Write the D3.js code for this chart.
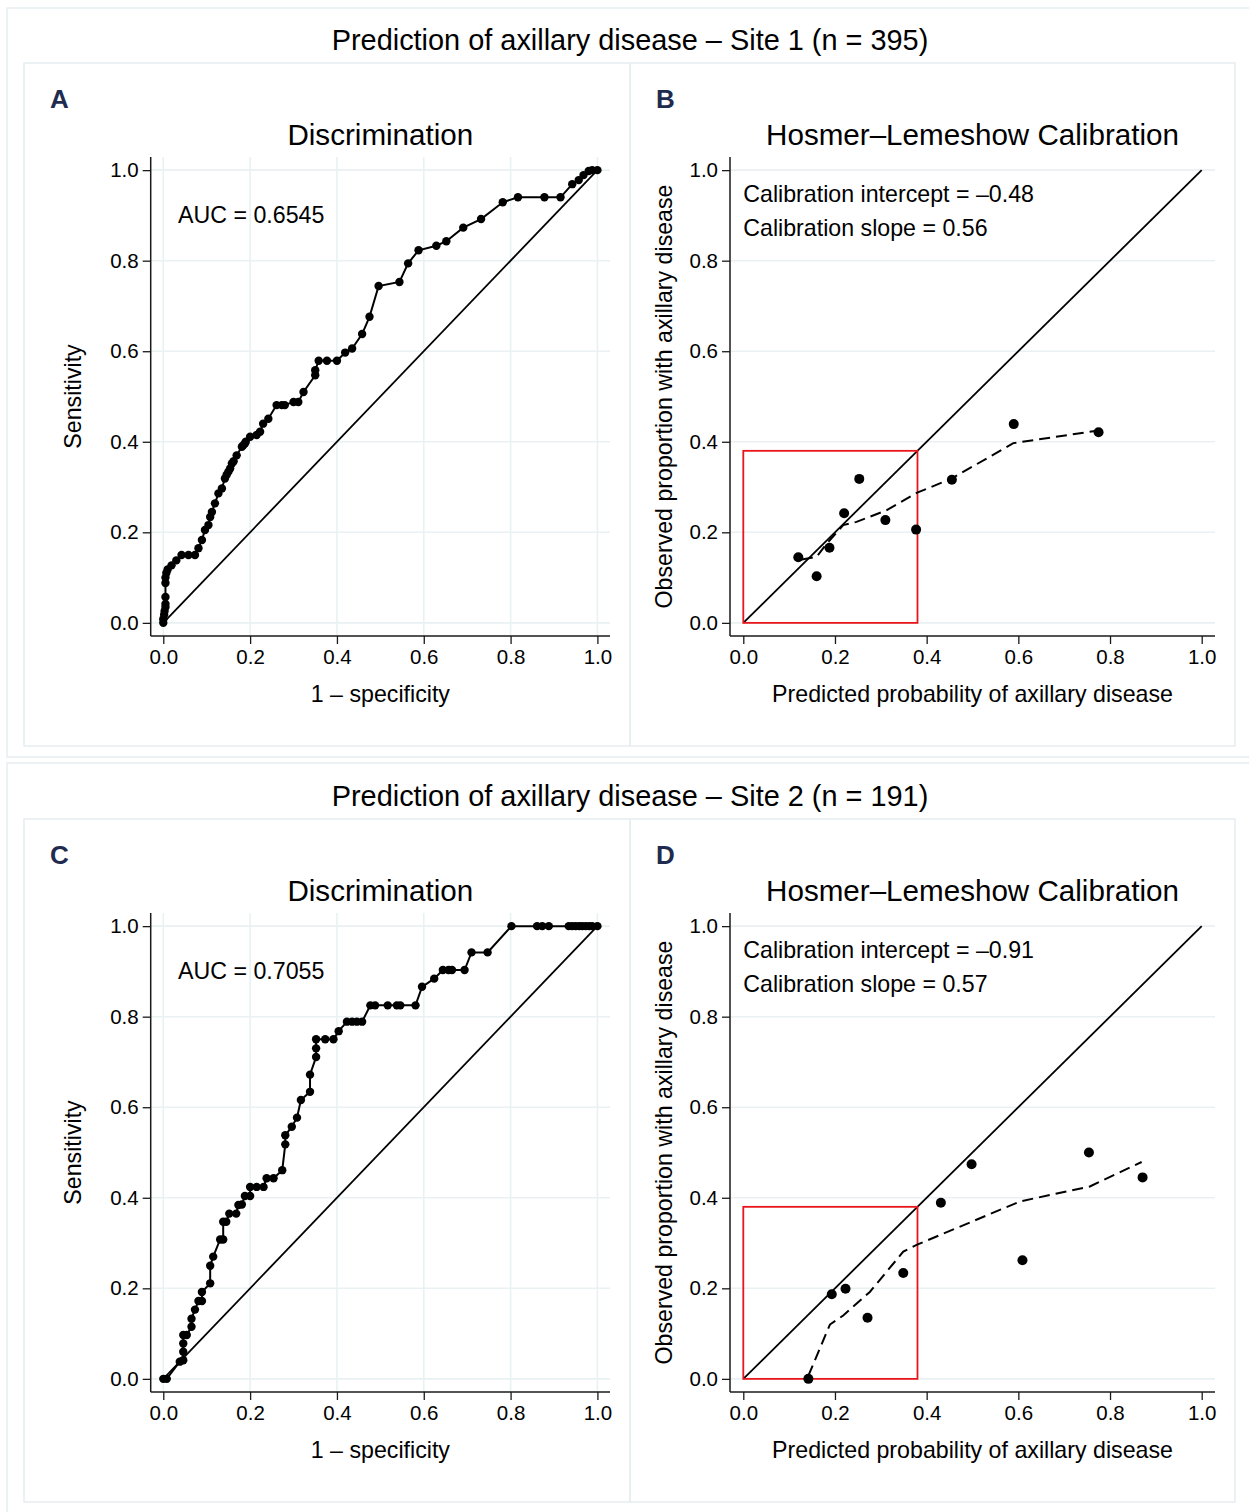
<!DOCTYPE html>
<html>
<head>
<meta charset="utf-8">
<script src="https://cdn.jsdelivr.net/npm/d3@7"></script>
<style>
  body { margin: 0; background: #fff; }
  text { font-family: "Liberation Sans", Arial, sans-serif; fill: #000; }
</style>
</head>
<body>
<div id="chart"></div>
<script>
// Data
const ticks = [0, 0.2, 0.4, 0.6, 0.8, 1.0];

const siteTitles = ["Prediction of axillary disease \u2013 Site 1 (n = 395)",
                    "Prediction of axillary disease \u2013 Site 2 (n = 191)"];
const panelLetters = ["A", "B", "C", "D"];
const aucLabels = ["AUC = 0.6545", "AUC = 0.7055"];
const interceptLabels = ["Calibration intercept = \u20130.48", "Calibration intercept = \u20130.91"];
const slopeLabels = ["Calibration slope = 0.56", "Calibration slope = 0.57"];

// ROC, site 1 (1 - specificity, sensitivity)
const roc1X = [0, 0, 0.002, 0.003, 0.005, 0.005, 0.005, 0.005, 0.005, 0.007, 0.01, 0.019, 0.03, 0.042,
  0.058, 0.073, 0.081, 0.089, 0.096, 0.104, 0.108, 0.112, 0.119, 0.127, 0.135, 0.142, 0.146, 0.15, 0.154,
  0.158, 0.162, 0.169, 0.181, 0.184, 0.188, 0.19, 0.2, 0.215, 0.223, 0.23, 0.242, 0.261, 0.273, 0.28, 0.3,
  0.311, 0.323, 0.35, 0.35, 0.358, 0.377, 0.4, 0.419, 0.435, 0.458, 0.475, 0.496, 0.544, 0.564, 0.588,
  0.629, 0.652, 0.691, 0.732, 0.782, 0.817, 0.878, 0.915, 0.942, 0.957, 0.968, 0.98, 0.988, 1];
const roc1Y = [0, 0.008, 0.018, 0.026, 0.035, 0.042, 0.057, 0.088, 0.1, 0.11, 0.118, 0.127, 0.138, 0.15,
  0.15, 0.15, 0.165, 0.183, 0.205, 0.216, 0.234, 0.245, 0.264, 0.286, 0.297, 0.319, 0.327, 0.334, 0.341,
  0.352, 0.357, 0.37, 0.389, 0.392, 0.396, 0.4, 0.411, 0.415, 0.422, 0.44, 0.451, 0.481, 0.481, 0.481, 0.488,
  0.488, 0.51, 0.547, 0.558, 0.579, 0.579, 0.579, 0.597, 0.606, 0.638, 0.676, 0.744, 0.753, 0.794, 0.823,
  0.833, 0.843, 0.873, 0.892, 0.929, 0.94, 0.94, 0.94, 0.969, 0.978, 0.989, 0.998, 1, 1];

// ROC, site 2
const roc2X = [0, 0.008, 0.038, 0.046, 0.046, 0.046, 0.046, 0.054, 0.065, 0.065, 0.073, 0.081, 0.089, 0.089,
  0.108, 0.108, 0.115, 0.131, 0.138, 0.138, 0.145, 0.152, 0.168, 0.173, 0.181, 0.188, 0.2, 0.2, 0.215, 0.231,
  0.238, 0.254, 0.274, 0.281, 0.281, 0.296, 0.308, 0.317, 0.338, 0.338, 0.352, 0.352, 0.352, 0.373, 0.392,
  0.404, 0.423, 0.435, 0.446, 0.458, 0.477, 0.488, 0.517, 0.538, 0.546, 0.581, 0.596, 0.624, 0.644, 0.657,
  0.665, 0.694, 0.71, 0.747, 0.802, 0.861, 0.873, 0.888, 0.934, 0.942, 0.95, 0.958, 0.965, 0.973, 0.981,
  0.988, 1];
const roc2Y = [0, 0, 0.038, 0.041, 0.06, 0.078, 0.097, 0.097, 0.115, 0.133, 0.153, 0.172, 0.172, 0.192,
  0.211, 0.25, 0.27, 0.308, 0.308, 0.347, 0.347, 0.365, 0.365, 0.384, 0.385, 0.404, 0.404, 0.424, 0.424,
  0.424, 0.443, 0.443, 0.461, 0.518, 0.538, 0.557, 0.577, 0.616, 0.634, 0.672, 0.711, 0.73, 0.75, 0.75, 0.75,
  0.768, 0.789, 0.789, 0.789, 0.789, 0.825, 0.825, 0.825, 0.825, 0.825, 0.825, 0.866, 0.884, 0.903, 0.903,
  0.903, 0.903, 0.942, 0.942, 1, 1, 1, 1, 1, 1, 1, 1, 1, 1, 1, 1, 1];

// Hosmer-Lemeshow groups, site 1
const cal1Pred = [0.12, 0.16, 0.188, 0.22, 0.253, 0.31, 0.377, 0.455, 0.59, 0.775];
const cal1Obs = [0.145, 0.103, 0.166, 0.242, 0.318, 0.227, 0.206, 0.316, 0.439, 0.421];
const smooth1X = [0.128, 0.16, 0.182, 0.218, 0.247, 0.313, 0.378, 0.455, 0.589, 0.775];
const smooth1Y = [0.14, 0.146, 0.175, 0.216, 0.223, 0.249, 0.287, 0.319, 0.397, 0.425];

// Hosmer-Lemeshow groups, site 2
const cal2Pred = [0.142, 0.193, 0.223, 0.271, 0.349, 0.431, 0.498, 0.609, 0.754, 0.871];
const cal2Obs = [0, 0.187, 0.199, 0.135, 0.234, 0.389, 0.474, 0.262, 0.5, 0.445];
const smooth2X = [0.142, 0.189, 0.218, 0.276, 0.349, 0.378, 0.604, 0.756, 0.869];
const smooth2Y = [0.007, 0.12, 0.14, 0.192, 0.281, 0.296, 0.392, 0.425, 0.479];

const zoomBox = 0.38;

// Layout
const W = 1249, H = 1512;
const rowShift = 756;
const pad = 0.029;
const frameColor = "#e6eef0";
const gridColor = "#e9f1f3";
const axisColor = "#1a1a1a";

const svg = d3.select("#chart").append("svg")
  .attr("width", W).attr("height", H);

svg.append("rect").attr("width", W).attr("height", H).attr("fill", "#fff");

// outer frames for each site and panel frames
[0, 1].forEach(r => {
  const dy = r * rowShift;
  svg.append("rect")
    .attr("x", 7).attr("y", 8 + dy + (r ? -1 : 0)).attr("width", 1262).attr("height", r ? 770 : 749)
    .attr("fill", "none").attr("stroke", frameColor).attr("stroke-width", 1.5);
  svg.append("rect")
    .attr("x", 24).attr("y", 63 + dy).attr("width", 606).attr("height", 683)
    .attr("fill", "none").attr("stroke", frameColor).attr("stroke-width", 1.5);
  svg.append("rect")
    .attr("x", 630).attr("y", 63 + dy).attr("width", 605).attr("height", 683)
    .attr("fill", "none").attr("stroke", frameColor).attr("stroke-width", 1.5);
  svg.append("text")
    .attr("x", 630).attr("y", 50 + dy)
    .attr("text-anchor", "middle").attr("font-size", 28.9)
    .text(siteTitles[r]);
});

function drawPanel(cfg) {
  const g = svg.append("g").attr("transform", `translate(0,${cfg.dy})`);

  const x = d3.scaleLinear().domain([-pad, 1 + pad]).range([cfg.left, cfg.right]);
  const y = d3.scaleLinear().domain([-pad, 1 + pad]).range([636, 157]);

  // panel letter
  g.append("text")
    .attr("x", cfg.frameLeft + 26).attr("y", 108)
    .attr("font-size", 26).attr("font-weight", "bold")
    .style("fill", "#1f2c4f")
    .text(cfg.letter);

  // subtitle
  g.append("text")
    .attr("x", (cfg.left + cfg.right) / 2).attr("y", 145)
    .attr("text-anchor", "middle").attr("font-size", 29.6)
    .text(cfg.subtitle);

  // gridlines
  g.append("g").selectAll("line").data(ticks).join("line")
    .attr("x1", cfg.left).attr("x2", cfg.right)
    .attr("y1", d => y(d)).attr("y2", d => y(d))
    .attr("stroke", gridColor).attr("stroke-width", 1.6);
  if (cfg.vgrid) {
    g.append("g").selectAll("line").data(ticks).join("line")
      .attr("x1", d => x(d)).attr("x2", d => x(d))
      .attr("y1", 157).attr("y2", 636)
      .attr("stroke", gridColor).attr("stroke-width", 1.6);
  }

  // axes
  const xAxis = g.append("g")
    .attr("transform", "translate(0,636)")
    .call(d3.axisBottom(x).tickValues(ticks).tickFormat(d3.format(".1f")).tickSize(8).tickPadding(5));
  const yAxis = g.append("g")
    .attr("transform", `translate(${cfg.left},0)`)
    .call(d3.axisLeft(y).tickValues(ticks).tickFormat(d3.format(".1f")).tickSize(8).tickPadding(4));
  [xAxis, yAxis].forEach(a => {
    a.select(".domain").remove();
    a.selectAll(".tick line").attr("stroke", axisColor).attr("stroke-width", 1.3);
    a.selectAll(".tick text").attr("font-size", 20.5).attr("font-family", "Liberation Sans, Arial, sans-serif").style("fill", "#000");
  });
  g.append("line").attr("x1", cfg.left).attr("x2", cfg.right).attr("y1", 636).attr("y2", 636)
    .attr("stroke", axisColor).attr("stroke-width", 1.5);
  g.append("line").attr("x1", cfg.left).attr("x2", cfg.left).attr("y1", 157).attr("y2", 636)
    .attr("stroke", axisColor).attr("stroke-width", 1.5);

  // axis titles
  g.append("text")
    .attr("x", (cfg.left + cfg.right) / 2).attr("y", 702)
    .attr("text-anchor", "middle").attr("font-size", 23.2)
    .text(cfg.xTitle);
  g.append("text")
    .attr("transform", `translate(${cfg.left - cfg.yTitleOff},396.5) rotate(-90)`)
    .attr("text-anchor", "middle").attr("font-size", 23.2)
    .text(cfg.yTitle);

  // reference diagonal
  g.append("line")
    .attr("x1", x(0)).attr("y1", y(0)).attr("x2", x(1)).attr("y2", y(1))
    .attr("stroke", "#000").attr("stroke-width", 1.8);

  const line = d3.line().x(d => x(d[0])).y(d => y(d[1]));

  if (cfg.type === "roc") {
    const pts = d3.zip(cfg.xs, cfg.ys);
    g.append("path").datum(pts).attr("d", line)
      .attr("fill", "none").attr("stroke", "#000").attr("stroke-width", 2);
    g.append("g").selectAll("circle").data(pts).join("circle")
      .attr("cx", d => x(d[0])).attr("cy", d => y(d[1])).attr("r", 4.2).attr("fill", "#000");
    g.append("text")
      .attr("x", x(0.034)).attr("y", y(0.9) + 8)
      .attr("font-size", 23.2)
      .text(cfg.note1);
  } else {
    g.append("rect")
      .attr("x", x(0)).attr("y", y(zoomBox))
      .attr("width", x(zoomBox) - x(0)).attr("height", y(0) - y(zoomBox))
      .attr("fill", "none").attr("stroke", "#e8161b").attr("stroke-width", 1.8);
    g.append("path").datum(d3.zip(cfg.sx, cfg.sy)).attr("d", line)
      .attr("fill", "none").attr("stroke", "#000").attr("stroke-width", 2)
      .attr("stroke-dasharray", "11,6");
    g.append("g").selectAll("circle").data(d3.zip(cfg.xs, cfg.ys)).join("circle")
      .attr("cx", d => x(d[0])).attr("cy", d => y(d[1])).attr("r", 5).attr("fill", "#000");
    g.append("text").attr("x", x(0)).attr("y", 202).attr("font-size", 23.2).text(cfg.note1);
    g.append("text").attr("x", x(0)).attr("y", 236).attr("font-size", 23.2).text(cfg.note2);
  }
}

[0, 1].forEach(r => {
  const dy = r * rowShift;
  drawPanel({
    type: "roc", dy, letter: panelLetters[r * 2], subtitle: "Discrimination",
    frameLeft: 24, left: 150.7, right: 610, vgrid: true,
    xTitle: "1 \u2013 specificity", yTitle: "Sensitivity", yTitleOff: 70,
    xs: r ? roc2X : roc1X, ys: r ? roc2Y : roc1Y, note1: aucLabels[r]
  });
  drawPanel({
    type: "cal", dy, letter: panelLetters[r * 2 + 1], subtitle: "Hosmer\u2013Lemeshow Calibration",
    frameLeft: 630, left: 730, right: 1215, vgrid: false,
    xTitle: "Predicted probability of axillary disease",
    yTitle: "Observed proportion with axillary disease", yTitleOff: 58,
    xs: r ? cal2Pred : cal1Pred, ys: r ? cal2Obs : cal1Obs,
    sx: r ? smooth2X : smooth1X, sy: r ? smooth2Y : smooth1Y,
    note1: interceptLabels[r], note2: slopeLabels[r]
  });
});
</script>
</body>
</html>
